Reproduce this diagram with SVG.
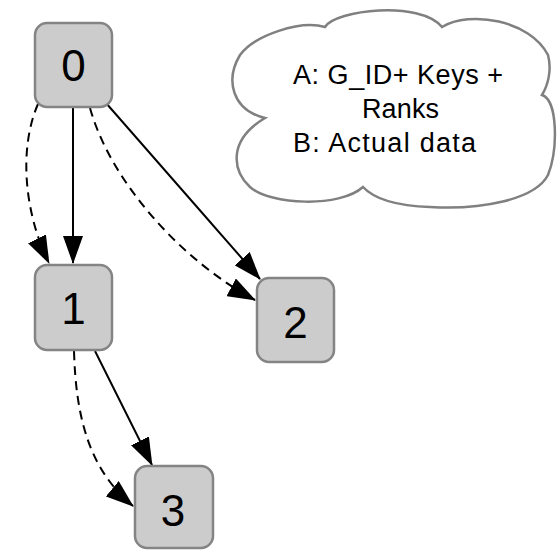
<svg xmlns="http://www.w3.org/2000/svg" width="557" height="550" viewBox="0 0 557 550">
  <style>
    .node rect { fill: #cccccc; stroke: #848484; stroke-width: 2.5; }
    .node text { font-family: "Liberation Sans", Arial, sans-serif; font-size: 44px; fill: #000; text-anchor: middle; }
    .edge { fill: none; stroke: #000; stroke-width: 2; }
    .dashed { stroke-dasharray: 9 6; }
    .note path { fill: #ffffff; stroke: #808080; stroke-width: 2.5; }
    .note text { font-family: "Liberation Sans", Arial, sans-serif; font-size: 27px; fill: #000; }
  </style>
  <defs>
    <marker id="arrow" markerUnits="userSpaceOnUse" markerWidth="28" markerHeight="20" refX="27" refY="10" orient="auto">
      <path d="M0,0 L28,10 L0,20 Z" fill="#000"/>
    </marker>
  </defs>

  <rect width="557" height="550" fill="#ffffff"/>

  <!-- connectors -->
  <g id="edges">
    <line class="edge" x1="73" y1="108" x2="73" y2="263" marker-end="url(#arrow)"/>
    <path class="edge dashed" d="M38,104 C18,150 25,215 49,263" marker-end="url(#arrow)"/>
    <line class="edge" x1="106" y1="103" x2="260" y2="279" marker-end="url(#arrow)"/>
    <path class="edge dashed" d="M90,108 C110,180 180,260 255,300" marker-end="url(#arrow)"/>
    <line class="edge" x1="95" y1="351" x2="152" y2="465" marker-end="url(#arrow)"/>
    <path class="edge dashed" d="M74,351 C76,420 90,470 133,506" marker-end="url(#arrow)"/>
  </g>

  <!-- nodes -->
  <g id="node0" class="node">
    <rect x="35" y="23" width="77" height="84" rx="12"/>
    <text x="73.5" y="80.5">0</text>
  </g>
  <g id="node1" class="node">
    <rect x="35" y="265" width="77" height="85" rx="12"/>
    <text x="73.5" y="324">1</text>
  </g>
  <g id="node2" class="node">
    <rect x="257" y="278" width="77" height="84" rx="12"/>
    <text x="295.5" y="338">2</text>
  </g>
  <g id="node3" class="node">
    <rect x="135" y="466" width="78" height="82" rx="12"/>
    <text x="173" y="525.5">3</text>
  </g>

  <!-- legend cloud -->
  <g id="legend" class="note">
    <path d="M325,27
             C335,10 420,0 442,27
             C470,10 530,20 548,55
             C552,70 548,85 542,95
             C558,100 558,150 548,175
             C535,200 480,210 430,207
             C400,206 375,200 363,187
             C340,208 270,205 250,187
             C232,170 228,140 265,118
             C232,110 225,80 240,55
             C255,35 300,20 325,27 Z"/>
    <text x="293" y="84" textLength="210" lengthAdjust="spacing">A: G_ID+ Keys +</text>
    <text x="362" y="118" textLength="77" lengthAdjust="spacing">Ranks</text>
    <text x="293" y="152" textLength="183" lengthAdjust="spacing">B: Actual data</text>
  </g>
</svg>
